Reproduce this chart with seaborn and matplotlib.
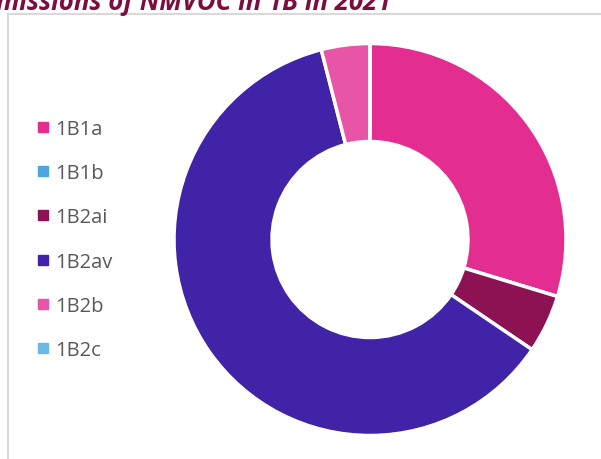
import matplotlib
matplotlib.use("Agg")
import matplotlib.pyplot as plt
from matplotlib.lines import Line2D
from matplotlib.patches import Rectangle
import seaborn as sns

# Share of NMVOC emissions per sub-category (percent)
categories = ['1B1a', '1B1b', '1B2ai', '1B2av', '1B2b', '1B2c']
shares = [29.7, 0.0, 4.8, 61.5, 4.0, 0.0]
colors = ['#E32D91', '#4EA6DC', '#8C1253', '#4023A6', '#E855A6', '#6CB8E4']
title = 'Emissions of NMVOC in 1B in 2021'

sns.set_style("white")
plt.rcParams['font.family'] = ['Open Sans', 'DejaVu Sans']

W, H = 601, 460
fig = plt.figure(figsize=(W / 100, H / 100), dpi=100)

# chart frame (light grey border, only left and top visible)
fig.patches.append(Rectangle((7.5 / W, -0.1), 1.2, (H - 14.5) / H + 0.1,
                             transform=fig.transFigure, fill=False,
                             edgecolor='#D9D9D9', linewidth=1.5))

# title, cut off at the top like in the source
fig.text(-18 / W, 1 - 9.5 / H, title, fontsize=18.5, fontstyle='italic',
         fontweight='bold', color='#7B0D3F', ha='left', va='baseline')

cx, cy, r = 370, 240.5, 196
ax = fig.add_axes([(cx - r) / W, (H - cy - r) / H, 2 * r / W, 2 * r / H])
ax.pie(shares, colors=colors, startangle=90, counterclock=False, radius=1,
       wedgeprops=dict(width=0.5, edgecolor='white', linewidth=2.5))
ax.set_xlim(-1, 1)
ax.set_ylim(-1, 1)
ax.set_aspect('equal')
ax.axis('off')

handles = [Line2D([], [], marker='s', linestyle='', markersize=7,
                  markerfacecolor=c, markeredgecolor=c) for c in colors]
leg = fig.legend(handles, categories, loc='upper left',
                 bbox_to_anchor=(13 / W, 1 - 102 / H), frameon=False,
                 fontsize=14.5, labelspacing=1.2, handletextpad=0.0,
                 handlelength=1.2)
for t in leg.get_texts():
    t.set_color('#595959')

fig.savefig('out.png', dpi=100)
